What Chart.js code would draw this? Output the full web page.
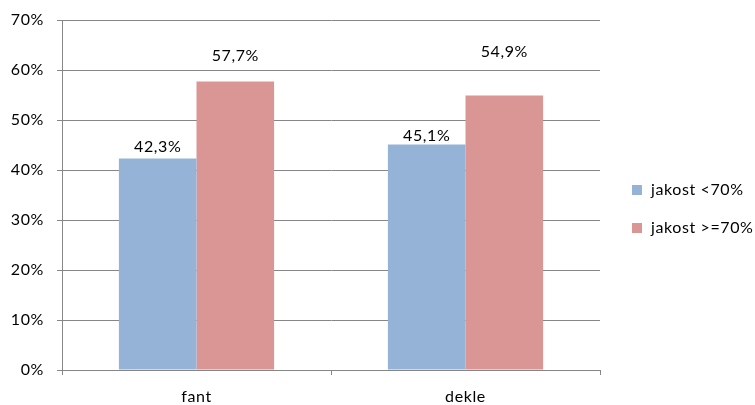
<!DOCTYPE html>
<html>
<head>
<meta charset="utf-8">
<script src="https://cdn.jsdelivr.net/npm/chart.js@4.4.1/dist/chart.umd.min.js"></script>
<style>
  html, body { margin: 0; padding: 0; background: #fff; }
  #wrap { width: 755px; height: 405px; position: relative; }
</style>
</head>
<body>
<div id="wrap"><canvas id="barChart"></canvas></div>
<script>
// Chart data
const categories = ['fant', 'dekle'];
const seriesNames = ['jakost <70%', 'jakost >=70%'];
const lowValues = [42.3, 45.1];
const highValues = [57.7, 54.9];
const yTicks = [0, 10, 20, 30, 40, 50, 60, 70];

const colors = ['#95B3D7', '#D99694'];
const fontFamily = 'Lato, "Open Sans", sans-serif';
const spacing = '0.6px';

const fmt = (v) => v.toFixed(1).replace('.', ',') + '%';

// Slightly wider text, like the original rendering
const textSpacing = {
    id: 'textSpacing',
    beforeLayout(chart) { chart.ctx.letterSpacing = spacing; },
    beforeDraw(chart) { chart.ctx.letterSpacing = spacing; }
};

// Value labels above the bars (pixel lift from bar top, per dataset/bar)
const valueLabels = {
    id: 'valueLabels',
    afterDatasetsDraw(chart, args, opts) {
        const ctx = chart.ctx;
        ctx.save();
        ctx.letterSpacing = spacing;
        ctx.font = '16px ' + fontFamily;
        ctx.fillStyle = '#000';
        ctx.textAlign = 'center';
        ctx.textBaseline = 'middle';
        chart.data.datasets.forEach((ds, i) => {
            chart.getDatasetMeta(i).data.forEach((bar, j) => {
                ctx.fillText(fmt(ds.data[j]), bar.x, bar.y - opts.lift[i][j]);
            });
        });
        ctx.restore();
    }
};

// Legend on the right
const sideLegend = {
    id: 'sideLegend',
    afterDraw(chart) {
        const ctx = chart.ctx;
        ctx.save();
        ctx.letterSpacing = spacing;
        ctx.font = '16px ' + fontFamily;
        ctx.textBaseline = 'middle';
        chart.data.datasets.forEach((ds, i) => {
            const y = 190 + i * 38;
            ctx.fillStyle = ds.backgroundColor;
            ctx.fillRect(632, y - 5, 10, 10);
            ctx.fillStyle = '#000';
            ctx.fillText(ds.label, 651, y);
        });
        ctx.restore();
    }
};

new Chart(document.getElementById('barChart'), {
    type: 'bar',
    data: {
        labels: categories,
        datasets: [
            { label: seriesNames[0], data: lowValues, backgroundColor: colors[0] },
            { label: seriesNames[1], data: highValues, backgroundColor: colors[1] }
        ]
    },
    options: {
        responsive: true,
        maintainAspectRatio: false,
        animation: false,
        devicePixelRatio: 1,
        layout: { padding: { top: 20, right: 155, left: 0, bottom: 0 } },
        datasets: {
            bar: { categoryPercentage: 0.577, barPercentage: 1.0, borderWidth: 0 }
        },
        plugins: {
            legend: { display: false },
            tooltip: { enabled: false },
            valueLabels: { lift: [[12, 9], [26, 44]] }
        },
        scales: {
            x: {
                grid: {
                    offset: true,
                    drawOnChartArea: false,
                    drawTicks: true,
                    tickLength: 5,
                    color: '#868686'
                },
                border: { color: '#868686', width: 1 },
                ticks: { color: '#000', padding: 12, font: { family: fontFamily, size: 16 } },
                afterFit: (scale) => { scale.height = 35; scale.paddingLeft = 0; scale.paddingRight = 0; }
            },
            y: {
                min: 0,
                max: 70,
                afterBuildTicks: (scale) => { scale.ticks = yTicks.map(v => ({ value: v })); },
                grid: { color: '#868686', tickLength: 5 },
                border: { color: '#868686', width: 1 },
                ticks: {
                    color: '#000',
                    padding: 13,
                    font: { family: fontFamily, size: 16 },
                    callback: (v) => v + '%'
                },
                afterFit: (scale) => { scale.width = 62; scale.paddingTop = 0; scale.paddingBottom = 0; }
            }
        }
    },
    plugins: [textSpacing, valueLabels, sideLegend]
});
</script>
</body>
</html>
